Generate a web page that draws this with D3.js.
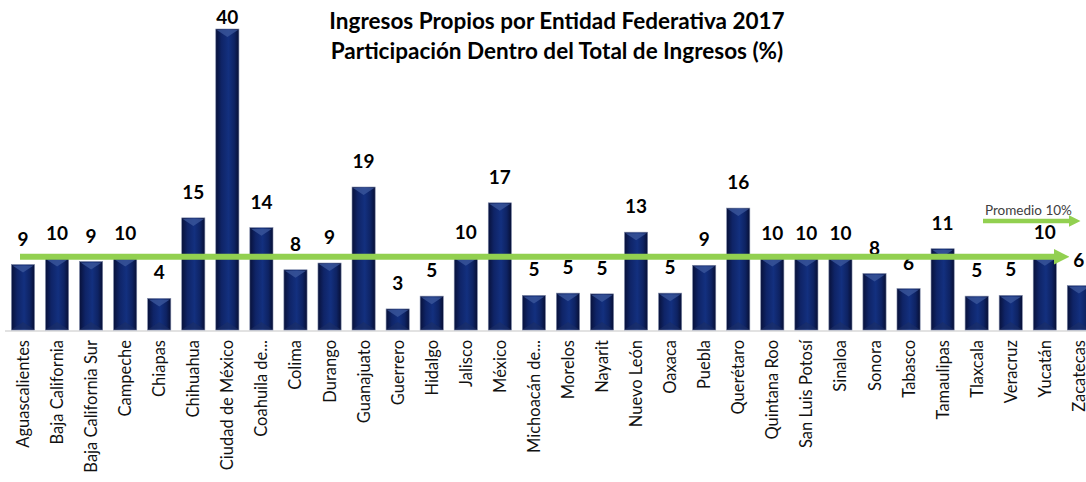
<!DOCTYPE html>
<html lang="es">
  <head>
    <meta charset="utf-8">
    <title>Ingresos Propios por Entidad Federativa 2017</title>
    <script src="https://cdn.jsdelivr.net/npm/d3@7"></script>
    <style>
      body { margin: 0; background: #fff; }
      text { font-family: Lato, "Open Sans", sans-serif; }
      .title { font-size: 22.5px; font-weight: bold; fill: #000; }
      .val { font-size: 19px; font-weight: bold; fill: #000; }
      .cat { font-size: 16.5px; fill: #111; }
      .leg { font-size: 13.5px; fill: #404040; }
    </style>
  </head>
  <body>
    <script>

        var w = 1086;
        var h = 482;

        var estados = [
          "Aguascalientes", "Baja California", "Baja California Sur", "Campeche",
          "Chiapas", "Chihuahua", "Ciudad de México", "Coahuila de...",
          "Colima", "Durango", "Guanajuato", "Guerrero", "Hidalgo", "Jalisco",
          "México", "Michoacán de...", "Morelos", "Nayarit", "Nuevo León",
          "Oaxaca", "Puebla", "Querétaro", "Quintana Roo", "San Luis Potosí",
          "Sinaloa", "Sonora", "Tabasco", "Tamaulipas", "Tlaxcala", "Veracruz",
          "Yucatán", "Zacatecas"
        ];

        // participación (%)
        var valores = [
          8.7, 9.5, 9.1, 9.5, 4.2, 14.9, 40.0, 13.6,
          8.0, 8.9, 19.0, 2.8, 4.5, 9.6, 16.9, 4.6,
          4.9, 4.8, 13.0, 4.9, 8.6, 16.2, 9.5, 9.5,
          9.5, 7.5, 5.5, 10.8, 4.5, 4.6, 9.6, 5.9
        ];

        // etiquetas tal como aparecen
        var etiquetas = [
          "9", "10", "9", "10", "4", "15", "40", "14",
          "8", "9", "19", "3", "5", "10", "17", "5",
          "5", "5", "13", "5", "9", "16", "10", "10",
          "10", "8", "6", "11", "5", "5", "10", "6"
        ];

        var promedio = 10;
        var titulo = [
          "Ingresos Propios por Entidad Federativa 2017",
          "Participación Dentro del Total de Ingresos (%)"
        ];

        var base = 330;
        var step = 34.06;

        var xScale = d3.scaleBand()
                       .domain(estados)
                       .range([23 - step / 2, 23 + step * 31 + step / 2])
                       .paddingInner(0.32)
                       .paddingOuter(0.16);

        var yScale = d3.scaleLinear()
                       .domain([0, 40])
                       .range([base, 29]);

        var mySvg = d3.select("body")
                      .append("svg")
                      .attr("width", w)
                      .attr("height", h);

        var defs = mySvg.append("defs");

        // degradado horizontal de las barras
        var grad = defs.append("linearGradient")
                       .attr("id", "barGrad")
                       .attr("x1", "0%").attr("x2", "100%")
                       .attr("y1", "0%").attr("y2", "0%");
        grad.append("stop").attr("offset", "0%").attr("stop-color", "#08113a");
        grad.append("stop").attr("offset", "25%").attr("stop-color", "#0f2467");
        grad.append("stop").attr("offset", "55%").attr("stop-color", "#13307f");
        grad.append("stop").attr("offset", "80%").attr("stop-color", "#0e2363");
        grad.append("stop").attr("offset", "100%").attr("stop-color", "#070f35");

        var arrow = defs.append("marker")
                        .attr("id", "arrowHead")
                        .attr("viewBox", "0 0 10 10")
                        .attr("refX", 1).attr("refY", 5)
                        .attr("markerWidth", 2.6).attr("markerHeight", 2.8)
                        .attr("orient", "auto")
                        .attr("markerUnits", "strokeWidth");
        arrow.append("path")
             .attr("d", "M0,0 L10,5 L0,10 Z")
             .attr("fill", "#92d050");

        // eje base
        mySvg.append("line")
             .attr("x1", 5).attr("x2", w)
             .attr("y1", base + 1).attr("y2", base + 1)
             .attr("stroke", "#d9d9d9")
             .attr("stroke-width", 1.5);

        var bars = mySvg.selectAll("g.bar")
                        .data(valores)
                        .enter()
                        .append("g")
                        .attr("class", "bar");

        bars.append("rect")
            .attr("x", function(d, i) { return xScale(estados[i]); })
            .attr("y", function(d) { return yScale(d); })
            .attr("width", xScale.bandwidth())
            .attr("height", function(d) { return base - yScale(d); })
            .attr("fill", "url(#barGrad)")
            .attr("stroke", "#7d88a8")
            .attr("stroke-width", 0.6);

        // bisel superior
        bars.append("path")
            .attr("d", function(d, i) {
              var x0 = xScale(estados[i]);
              var bw = xScale.bandwidth();
              var y0 = yScale(d) + 1;
              return "M" + (x0 + 1) + "," + y0 +
                     " L" + (x0 + bw - 1) + "," + y0 +
                     " L" + (x0 + bw / 2) + "," + (y0 + 7) + " Z";
            })
            .attr("fill", "#3d5a9e")
            .attr("opacity", 0.75);

        // bisel inferior
        bars.append("path")
            .attr("d", function(d, i) {
              var x0 = xScale(estados[i]);
              var bw = xScale.bandwidth();
              return "M" + (x0 + 1) + "," + (base - 1) +
                     " L" + (x0 + bw - 1) + "," + (base - 1) +
                     " L" + (x0 + bw / 2) + "," + (base - 8) + " Z";
            })
            .attr("fill", "#1c2f66")
            .attr("opacity", 0.6);

        // etiquetas de valor
        mySvg.selectAll("text.val")
             .data(valores)
             .enter()
             .append("text")
             .attr("class", "val")
             .attr("x", function(d, i) { return xScale(estados[i]) + xScale.bandwidth() / 2; })
             .attr("y", function(d) { return Math.max(24, yScale(d) - 19); })
             .attr("text-anchor", "middle")
             .text(function(d, i) { return etiquetas[i]; });

        // nombres de entidades
        mySvg.selectAll("text.cat")
             .data(estados)
             .enter()
             .append("text")
             .attr("class", "cat")
             .attr("transform", function(d) {
               return "translate(" + (xScale(d) + xScale.bandwidth() / 2 + 6) + "," + (base + 10) + ") rotate(-90)";
             })
             .attr("text-anchor", "end")
             .text(function(d) { return d; });

        // línea de promedio
        mySvg.append("line")
             .attr("x1", 20)
             .attr("x2", xScale(estados[31]) - 12)
             .attr("y1", yScale(promedio) + 2)
             .attr("y2", yScale(promedio) + 2)
             .attr("stroke", "#92d050")
             .attr("stroke-width", 6)
             .attr("marker-end", "url(#arrowHead)");

        // leyenda
        mySvg.append("text")
             .attr("class", "leg")
             .attr("x", 985)
             .attr("y", 215)
             .text("Promedio " + promedio + "%");

        mySvg.append("line")
             .attr("x1", 983).attr("x2", 1070)
             .attr("y1", 221).attr("y2", 221)
             .attr("stroke", "#92d050")
             .attr("stroke-width", 4.5)
             .attr("marker-end", "url(#arrowHead)");

        // título
        mySvg.selectAll("text.title")
             .data(titulo)
             .enter()
             .append("text")
             .attr("class", "title")
             .attr("x", 557)
             .attr("y", function(d, i) { return 29 + i * 30; })
             .attr("text-anchor", "middle")
             .text(function(d) { return d; });

    </script>
  </body>
</html>
